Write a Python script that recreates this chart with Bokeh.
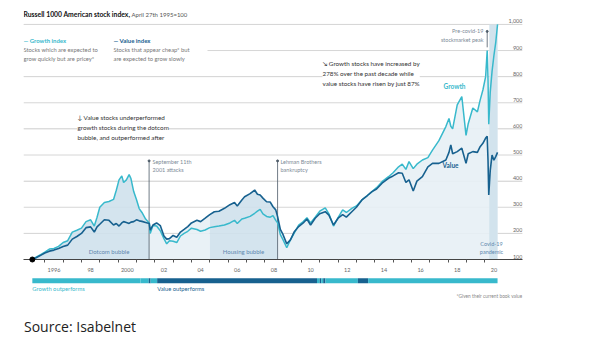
import numpy as np
from bokeh.plotting import figure
from bokeh.models import Range1d, FixedTicker, Label, BoxAnnotation, CustomJSTickFormatter
from bokeh.layouts import column
from bokeh.embed import file_html
from bokeh.resources import INLINE
from bokeh.core.properties import value

# ---------------- data ----------------
dates = [
    1995.32, 1995.5, 1995.75, 1996.0, 1996.25, 1996.5, 1996.75, 1997.0, 1997.25, 1997.5,
    1997.75, 1998.0, 1998.25, 1998.5, 1998.7, 1998.85, 1999.0, 1999.25, 1999.5, 1999.75,
    1999.9, 2000.05, 2000.2, 2000.3, 2000.45, 2000.6, 2000.7, 2000.85, 2001.0, 2001.15,
    2001.3, 2001.5, 2001.7, 2001.75, 2001.9, 2002.1, 2002.3, 2002.5, 2002.65, 2002.8,
    2003.0, 2003.2, 2003.4, 2003.6, 2003.8, 2004.0, 2004.3, 2004.5, 2004.75, 2005.0,
    2005.25, 2005.5, 2005.8, 2006.1, 2006.35, 2006.5, 2006.75, 2006.9, 2007.2, 2007.45,
    2007.6, 2007.75, 2007.9, 2008.1, 2008.3, 2008.45, 2008.6, 2008.7, 2008.85, 2009.0,
    2009.2, 2009.4, 2009.6, 2009.85, 2010.1, 2010.3, 2010.5, 2010.75, 2011.0, 2011.3,
    2011.5, 2011.75, 2012.0, 2012.25, 2012.45, 2012.75, 2013.0, 2013.3, 2013.6, 2013.85,
    2014.1, 2014.4, 2014.75, 2015.0, 2015.3, 2015.5, 2015.7, 2015.87, 2016.1, 2016.3,
    2016.6, 2016.9, 2017.15, 2017.5, 2017.88, 2018.05, 2018.15, 2018.25, 2018.5, 2018.75,
    2018.98, 2019.1, 2019.35, 2019.6, 2019.75, 2019.9, 2020.05, 2020.135, 2020.18, 2020.22,
    2020.3, 2020.4, 2020.5, 2020.6, 2020.7]

growth_index = [
    100, 108, 118, 128, 140, 142, 150, 165, 172, 205,
    212, 220, 245, 252, 228, 262, 300, 318, 322, 330,
    365, 405, 420, 395, 405, 425, 410, 360, 330, 295,
    280, 255, 240, 200, 230, 228, 210, 180, 160, 172,
    170, 165, 190, 200, 208, 220, 215, 208, 213, 222,
    225, 228, 232, 240, 250, 238, 255, 258, 265, 277,
    285, 292, 275, 265, 262, 268, 250, 240, 195, 175,
    145, 175, 200, 232, 245, 260, 240, 262, 285, 298,
    275, 228, 260, 290, 280, 296, 305, 328, 345, 360,
    375, 398, 417, 432, 455, 465, 445, 475, 448, 465,
    481, 490, 519, 555, 609, 640, 610, 600, 692, 724,
    575, 620, 680, 665, 710, 749, 800, 900, 790, 618,
    740, 820, 880, 930, 1000]

value_index = [
    100, 106, 115, 125, 132, 136, 142, 150, 155, 178,
    188, 200, 222, 225, 205, 225, 235, 252, 250, 232,
    238, 228, 240, 245, 242, 238, 243, 245, 252, 248,
    246, 242, 238, 212, 232, 240, 230, 190, 178, 180,
    192, 185, 205, 215, 226, 240, 250, 245, 258, 272,
    283, 285, 296, 310, 318, 305, 328, 340, 352, 366,
    350, 347, 335, 321, 320, 302, 290, 264, 215, 195,
    160, 175, 205, 226, 240, 255, 232, 258, 275, 283,
    270, 232, 258, 272, 262, 283, 300, 328, 345, 360,
    370, 392, 411, 420, 432, 430, 395, 405, 362, 400,
    417, 455, 468, 468, 481, 510, 539, 505, 513, 526,
    468, 505, 513, 510, 532, 545, 565, 572, 480, 347,
    440, 500, 480, 494, 510]

y_ticks = [100, 200, 300, 400, 500, 600, 700, 800, 900, 1000]
y_tick_labels = ["100", "200", "300", "400", "500", "600", "700", "800", "900", "1,000"]
year_ticks = list(range(1996, 2021))
label_years = list(range(1996, 2021, 2))

dotcom = (1995.32, 2001.7)
housing = (2005.0, 2008.7)
covid = (2020.25, 2020.7)
sept11 = 2001.69
lehman = 2008.70
precovid_peak = 2020.135

bar_start = [1995.32, 2001.22, 2001.67, 2001.77, 2002.13, 2010.85, 2011.0, 2011.08, 2011.19, 2011.31, 2013.08, 2013.64]
bar_end = [2001.22, 2001.67, 2001.77, 2002.13, 2010.85, 2011.0, 2011.08, 2011.19, 2011.31, 2013.08, 2013.64, 2020.70]
bar_leader = ["Growth", "Growth", "Value", "Growth", "Value", "Growth", "Value", "Growth", "Value", "Growth", "Value", "Growth"]

# ---------------- styles ----------------
GROWTH = "#38b9cc"
VALUE = "#17618f"
FILL_DARK = "#cfe1ec"
FILL_LIGHT = "#e7f0f5"
COVID_FILL = "#d2e3ed"
GRID = "#d6d6d6"
NOTE = "#7d8b98"
BUBBLE = "#5f88ae"
FONT = "Lato"

# frame: canvas px 23..522 horizontally, 0..260 vertically
X0, X1 = 1994.838, 2022.061
Y0, Y1 = 100.0, 1091.6
KX = (X1 - X0) / 499.0
KY = (Y1 - Y0) / 260.0


def X(px):
    return X0 + (px - 23) * KX


def Y(py):
    return Y0 + (260 - py) * KY


d = np.array(dates)
g = np.array(growth_index, dtype=float)
v = np.array(value_index, dtype=float)
env = np.maximum(g, v)

xr = Range1d(X0, X1)
p = figure(width=594, height=274, x_range=xr, y_range=Range1d(Y0, Y1),
           output_backend="svg", toolbar_location=None, y_axis_location=None,
           min_border_left=23, min_border_right=72, min_border_top=0, min_border_bottom=14)
p.outline_line_color = None
p.xgrid.visible = False
p.background_fill_color = "white"

# gridlines
p.segment(x0=[X(23)] * (len(y_ticks) - 1), x1=[X(522)] * (len(y_ticks) - 1),
          y0=y_ticks[1:], y1=y_ticks[1:], line_color=GRID, line_width=1)


# fills under the upper envelope
def area(a, b, color):
    m = (d >= a) & (d <= b)
    p.varea(x=d[m], y1=np.full(m.sum(), Y0), y2=env[m], fill_color=color, fill_alpha=0.9)


area(dotcom[0], dotcom[1], FILL_DARK)
area(dotcom[1], housing[0], FILL_LIGHT)
area(housing[0], housing[1], FILL_DARK)
area(housing[1], dates[-1], FILL_LIGHT)
p.quad(left=[covid[0]], right=[covid[1]], bottom=[Y0], top=[1000], fill_color=COVID_FILL, line_color=None)

# event lines
p.segment(x0=[sept11, lehman], x1=[sept11, lehman], y0=[Y0, Y0], y1=[Y(161), Y(161)],
          line_color="#4d5b68", line_width=0.8)
p.segment(x0=[precovid_peak], x1=[precovid_peak], y0=[Y(47)], y1=[Y(31)], line_color="#4d5b68", line_width=0.8)
p.scatter(x=[sept11, lehman, precovid_peak], y=[Y(161), Y(161), Y(31)], size=2, color="#4d5b68")

# series
p.line(d, g, line_color=GROWTH, line_width=1.5)
p.line(d, v, line_color=VALUE, line_width=1.6)
p.scatter(x=[dates[0]], y=[value_index[0]], size=5, color="black", level="overlay")

# x axis
ax = p.xaxis[0]
ax.ticker = FixedTicker(ticks=[yr + 0.5 for yr in label_years], minor_ticks=year_ticks)
ax.formatter = CustomJSTickFormatter(code="""
    const y = Math.floor(tick);
    if (y === 1996 || y === 2000) { return String(y); }
    return String(y).slice(2);
""")
ax.major_tick_out = 0
ax.major_tick_in = 0
ax.minor_tick_out = 3
ax.minor_tick_in = 0
ax.minor_tick_line_color = "#555555"
ax.axis_line_color = "#444444"
ax.major_label_text_font = FONT
ax.major_label_text_font_size = "5.5px"
ax.major_label_text_color = "#666666"
ax.major_label_standoff = 5

# y tick labels (inside frame, right side, above gridlines)
p.text(x=[X(522)] * len(y_ticks), y=y_ticks, text=y_tick_labels, text_align="right",
       text_baseline="bottom", y_offset=-1, text_font=value(FONT), text_font_size="5.5px",
       text_color="#666666")

# white box behind legend
p.add_layout(BoxAnnotation(left=X(21), right=X(207), top=Y(33), bottom=Y(62),
                           fill_color="white", fill_alpha=1, line_color=None))


def lab(px, py, text, size="6px", color="#333333", style="normal", align="left",
        baseline="middle", bg=None, lh=1.2):
    kw = dict(x=X(px), y=Y(py), text=text, text_font=FONT, text_font_size=size,
              text_color=color, text_font_style=style, text_align=align,
              text_baseline=baseline, text_line_height=lh)
    if bg:
        kw.update(background_fill_color=bg, background_fill_alpha=1.0)
    p.add_layout(Label(**kw))


lab(23, 14, "Russell 1000 American stock index,", size="6.8px", color="#111111", style="bold")
lab(131, 14, "April 27th 1995=100", size="6px", color="#555555")

lab(23, 40.5, "\u2014 Growth index", size="6px", color=GROWTH, style="bold")
lab(23, 45.5, "Stocks which are expected to\ngrow quickly but are pricey*", size="5.8px",
    color="#777777", baseline="top", lh=1.3)
lab(113, 40.5, "\u2014 Value index", size="6px", color=VALUE, style="bold")
lab(113, 45.5, "Stocks that appear cheap* but\nare expected to grow slowly", size="5.8px",
    color="#777777", baseline="top", lh=1.3)

lab(77, 114, "\u2193 Value stocks underperformed\ngrowth stocks during the dotcom\nbubble, and outperformed after",
    size="6.3px", color="#333333", baseline="top", bg="white", lh=1.4)
lab(322, 60, "\u2198 Growth stocks have increased by\n278% over the past decade while\nvalue stocks have risen by just 87%",
    size="6.3px", color="#333333", baseline="top", bg="white", lh=1.4)

lab(443, 86, "Growth", size="6.5px", color=GROWTH, style="bold")
lab(442, 166, "Value", size="6.5px", color=VALUE, style="bold")

lab(152, 159, "September 11th\n2001 attacks", size="5.5px", color=NOTE, baseline="top", lh=1.4)
lab(280, 159, "Lehman Brothers\nbankruptcy", size="5.5px", color=NOTE, baseline="top", lh=1.4)
lab(483, 28, "Pre-covid-19\nstockmarket peak", size="5.5px", color=NOTE, align="right", baseline="top", lh=1.4)

lab(108.5, 252, "Dotcom bubble", size="6px", color=BUBBLE, align="center")
lab(243, 252, "Housing bubble", size="6px", color=BUBBLE, align="center")
lab(491, 241, "Covid-19\npandemic", size="5.5px", color=BUBBLE, align="center", baseline="top", lh=1.4)

# ---------------- bottom strip (same frame columns as the chart) ----------------
q = figure(width=594, height=80, x_range=xr, y_range=Range1d(80, 0),
           output_backend="svg", toolbar_location=None, x_axis_location=None, y_axis_location=None,
           min_border_left=23, min_border_right=72, min_border_top=0, min_border_bottom=0)
q.outline_line_color = None
q.xgrid.visible = False
q.ygrid.visible = False

bar_colors = [GROWTH if w == "Growth" else VALUE for w in bar_leader]
q.quad(left=bar_start, right=bar_end, top=[3.8] * len(bar_start), bottom=[8.8] * len(bar_start),
       fill_color=bar_colors, line_color=None)


def labq(xd, y, text, size, color, align="left", font=FONT):
    q.add_layout(Label(x=xd, y=y, text=text, text_font=font, text_font_size=size,
                       text_color=color, text_align=align, text_baseline="middle"))


labq(bar_start[0], 13.8, "Growth outperforms", "5.8px", GROWTH)
labq(bar_start[4], 13.8, "Value outperforms", "5.8px", VALUE)
labq(X(522), 21, "*Given their current book value", "4.8px", "#888888", align="right")
labq(X(23.5), 52, "Source: Isabelnet", "14px", "#222222", font="Open Sans")

layout = column(p, q, spacing=0)
open("out.html", "w").write(file_html(layout, INLINE))
